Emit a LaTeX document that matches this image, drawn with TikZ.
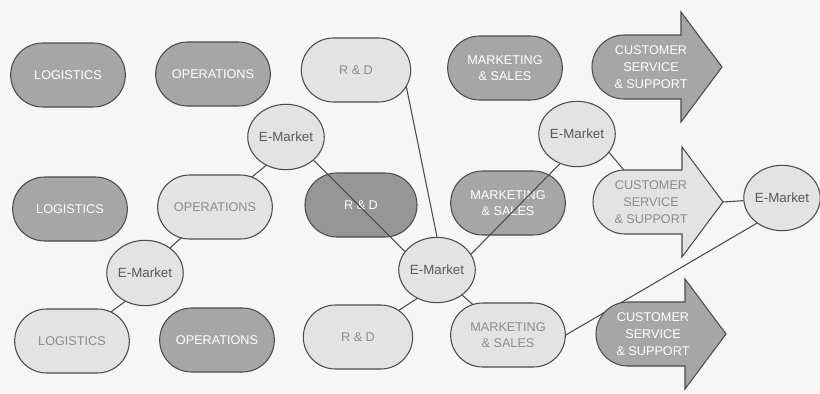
\documentclass[tikz,border=0pt]{standalone}
\usepackage{fontspec}
\setmainfont{Liberation Sans}
\usetikzlibrary{shapes.geometric, backgrounds, calc}
\definecolor{paper}{gray}{0.965}
\definecolor{edge}{gray}{0.30}
\definecolor{dark}{gray}{0.65}
\definecolor{darker}{gray}{0.59}
\definecolor{light}{gray}{0.89}
\definecolor{dim}{gray}{0.55}
\definecolor{ink}{gray}{0.35}
\tikzset{
  cssarrow/.pic={
    \path[pic actions] (89,-32) -- (89,-55) -- (130,0) -- (89,55) -- (89,32)
      -- (32,32) arc[start angle=270, end angle=90, radius=24pt] -- cycle;
    \coordinate (-tip) at (130,0);
  },
}
\begin{document}
\begin{tikzpicture}[
  x=0.75pt, y=-0.75pt,
  font=\fontsize{9.5}{12.5}\selectfont,
  unit/.style={rectangle, rounded corners=24pt, minimum width=86pt,
               minimum height=48pt, inner sep=0pt, align=center,
               draw=edge, line width=.8pt},
  darkunit/.style={unit, fill=dark, text=white},
  lightunit/.style={unit, fill=light, text=dim},
  market/.style={ellipse, minimum width=54pt, minimum height=49pt,
                 inner sep=0pt, draw=edge, line width=.8pt, fill=light,
                 text=ink, font=\fontsize{10}{12}\selectfont},
  csstext/.style={rectangle, inner sep=0pt, align=center},
  link/.style={draw=edge, line width=.8pt},
]
\useasboundingbox (0,0) rectangle (820,393);
\begin{scope}[on background layer]
  \fill[paper] (0,0) rectangle (820,393);
\end{scope}

% row 1
\node[darkunit] (log1) at (68,75) {LOGISTICS};
\node[darkunit] (ops1) at (213,74) {OPERATIONS};
\node[lightunit, minimum width=82pt] (rd1) at (356,70) {R \& D};
\node[darkunit] (mkt1) at (505,68) {MARKETING\\\& SALES};

% row 2
\node[darkunit] (log2) at (70,209) {LOGISTICS};
\node[lightunit] (ops2) at (215,207) {OPERATIONS};
\node[darkunit, fill=darker, minimum width=84pt] (rd2) at (361,205) {R \& D};
\node[darkunit] (mkt2) at (508,203) {MARKETING\\\& SALES};

% row 3
\node[lightunit] (log3) at (72,341) {LOGISTICS};
\node[darkunit] (ops3) at (217,340) {OPERATIONS};
\node[lightunit, minimum width=82pt] (rd3) at (358,337) {R \& D};
\node[lightunit] (mkt3) at (508,335) {MARKETING\\\& SALES};

% customer service arrows
\foreach \i/\x/\y/\c in {1/592/67/dark, 2/593/202/light, 3/596/334/dark}
  \pic[draw=edge, fill=\c, line width=.8pt] (arr\i) at (\x,\y) {cssarrow};
\node[csstext, text=white] (css1) at (651,67) {CUSTOMER\\SERVICE\\\& SUPPORT};
\node[csstext, text=dim] (css2) at (651,202) {CUSTOMER\\SERVICE\\\& SUPPORT};
\node[csstext, text=white] (css3) at (653,334) {CUSTOMER\\SERVICE\\\& SUPPORT};

% e-markets
\node[market] (e1) at (286,137) {E-Market};
\node[market] (e2) at (145,273) {E-Market};
\node[market] (e3) at (437,270) {E-Market};
\node[market] (e4) at (577,134) {E-Market};
\node[market] (e5) at (782,198) {E-Market};

\begin{scope}[on background layer]
  \draw[link] (e1.235) -- (ops2.center);
  \draw[link] (e2.45) -- (ops2.center);
  \draw[link] (e2.235) -- (log3.center);
  \draw[link] ($(rd1.east)!0.15!(rd1.center)$) -- (e3.north);
  \draw[link] (e3.235) -- (rd3.center);
  \draw[link] (e3.-45) -- (mkt3.center);
  \draw[link] (e4.-30) -- (css2.center);
  \draw[link] (arr2-tip) -- (e5);
  \draw[link] (e5.225) -- (mkt3.east);
\end{scope}
\draw[link] (e1.-40) -- (e3.150);
\draw[link] (e3.25) -- (e4.240);
\end{tikzpicture}
\end{document}
